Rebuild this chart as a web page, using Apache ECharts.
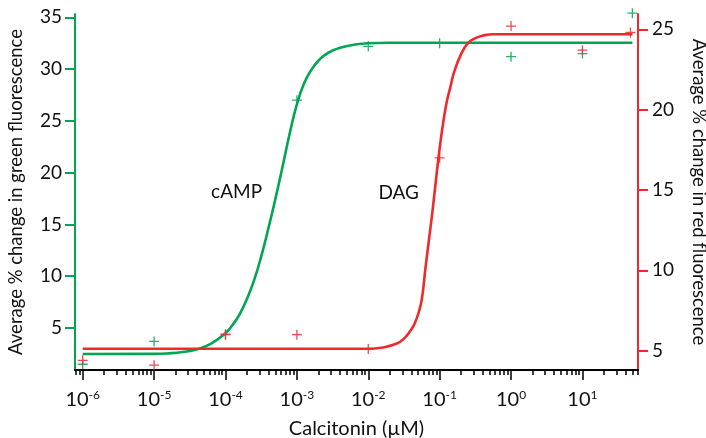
<!DOCTYPE html>
<html>
<head>
<meta charset="utf-8">
<script src="https://cdn.jsdelivr.net/npm/echarts@6/dist/echarts.min.js"></script>
<style>
  html, body { margin: 0; padding: 0; background: #fff; }
  #chart { width: 706px; height: 438px; }
</style>
</head>
<body>
<div id="chart"></div>
<script>
// concentrations (uM) of the measured points
const doses = [1e-6, 1e-5, 1e-4, 1e-3, 1e-2, 1e-1, 1, 10, 50]
const dosesRed = [1e-6, 1e-5, 1e-4, 1e-3, 1e-2, 1e-1, 1, 10, 47]
const greenPoints = [1.5, 3.7, 4.4, 27.0, 32.2, 32.5, 31.2, 31.5, 35.4]
const redPoints = [4.4, 4.1, 6.0, 6.0, 5.1, 17.0, 25.2, 23.7, 24.8]

// fitted curves (log10 of the dose, value)
const greenFitLogDose = [-6, -5, -4.8, -4.6, -4.4, -4.2, -4.0, -3.9, -3.8, -3.7, -3.6, -3.5, -3.4, -3.3, -3.2, -3.1, -3.0, -2.9, -2.8, -2.7, -2.6, -2.5, -2.4, -2.2, -2.0, -1.7, 1.7]
const greenFitY = [2.49, 2.5, 2.55, 2.68, 2.95, 3.5, 4.5, 5.3, 6.35, 7.8, 9.6, 11.9, 14.6, 17.5, 20.6, 23.8, 26.6, 28.6, 29.9, 30.8, 31.4, 31.8, 32.05, 32.35, 32.5, 32.55, 32.55]
const redFitLogDose = [-6, -2.0, -1.8, -1.6, -1.5, -1.4, -1.35, -1.3, -1.25, -1.2, -1.15, -1.1, -1.05, -1.0, -0.95, -0.9, -0.85, -0.8, -0.7, -0.6, -0.5, -0.4, -0.25, 1.7]
const redFitY = [5.12, 5.12, 5.2, 5.45, 5.75, 6.3, 6.7, 7.3, 8.2, 10.1, 11.9, 13.7, 15.7, 17.6, 19.2, 20.5, 21.4, 22.3, 23.45, 24.15, 24.45, 24.6, 24.69, 24.69]

// axis ticks
const xTicks = [1e-6, 1e-5, 1e-4, 1e-3, 1e-2, 1e-1, 1, 10]
const leftTicks = [5, 10, 15, 20, 25, 30, 35]
const rightTicks = [5, 10, 15, 20, 25]

// curve labels
const curveLabels = [
  { name: 'cAMP', x: 1.43e-4, y: 18.1 },
  { name: 'DAG', x: 2.67e-2, y: 14.8 }
]

const GREEN = '#00a651'
const RED = '#ee2a2e'
const FONT = 'Lato'
const INK = '#111'

// minor ticks 2..9 of each decade
const xMinorTicks = [8e-7, 9e-7]
xTicks.forEach(d => {
  for (let m = 2; m <= 9; m++) xMinorTicks.push(+(d * m).toPrecision(3))
})

const pair = (xs, ys) => xs.map((x, i) => [x, ys[i]])
const pairLog = (lx, ys) => lx.map((x, i) => [Math.pow(10, x), ys[i]])
const plus = 'path://M0,4.35H10V5.65H0Z M4.35,0H5.65V10H4.35Z'

const chart = echarts.init(document.getElementById('chart'), null, { renderer: 'canvas' })

const labelMark = (item) => ({
  symbol: 'circle',
  symbolSize: 0,
  label: { show: true, position: 'inside', formatter: '{b}', fontSize: 19, color: INK, fontFamily: FONT },
  data: [{ name: item.name, coord: [item.x, item.y] }]
})

chart.setOption({
  animation: false,
  textStyle: { fontFamily: FONT },
  grid: { left: 75, right: 68, top: 14, bottom: 68, outerBoundsMode: 'none' },
  xAxis: [
    {
      type: 'log',
      min: 7.8e-7,
      max: 60,
      position: 'bottom',
      name: 'Calcitonin (µM)',
      nameLocation: 'middle',
      nameGap: 49,
      nameTextStyle: { fontSize: 20, color: INK, fontFamily: FONT },
      axisLine: { lineStyle: { color: '#000', width: 2 } },
      axisTick: { customValues: xTicks, length: 10, lineStyle: { color: '#000', width: 1.5 } },
      splitLine: { show: false },
      axisLabel: {
        customValues: xTicks,
        margin: 19,
        formatter: v => '{b|10}{s|' + Math.round(Math.log10(v)) + '}',
        rich: {
          b: { fontSize: 20, lineHeight: 22, color: INK, fontFamily: FONT },
          s: { fontSize: 12, lineHeight: 12, verticalAlign: 'top', color: INK, fontFamily: FONT }
        }
      }
    },
    {
      type: 'log',
      min: 7.8e-7,
      max: 60,
      position: 'bottom',
      axisLine: { show: false },
      axisTick: { customValues: xMinorTicks, length: 5, lineStyle: { color: '#000', width: 1.5 } },
      axisLabel: { show: false },
      splitLine: { show: false }
    }
  ],
  yAxis: [
    {
      type: 'value',
      min: 0.945,
      max: 35.32,
      position: 'left',
      name: 'Average % change in green fluorescence',
      nameLocation: 'middle',
      nameGap: 49,
      nameTextStyle: { fontSize: 18.5, color: INK, fontFamily: FONT },
      axisLine: { show: true, lineStyle: { color: GREEN, width: 2 } },
      axisTick: { show: true, customValues: leftTicks, length: 10, lineStyle: { color: GREEN, width: 2 } },
      axisLabel: { customValues: leftTicks, margin: 13, fontSize: 19, color: INK, fontFamily: FONT },
      splitLine: { show: false }
    },
    {
      type: 'value',
      min: 3.8,
      max: 25.95,
      position: 'right',
      name: 'Average % change in red fluorescence',
      nameLocation: 'middle',
      nameRotate: -90,
      nameGap: 51,
      nameTextStyle: { fontSize: 18.5, color: INK, fontFamily: FONT },
      axisLine: { show: true, lineStyle: { color: RED, width: 2 } },
      axisTick: { show: true, customValues: rightTicks, length: 10, lineStyle: { color: RED, width: 2 } },
      axisLabel: { customValues: rightTicks, margin: 14, fontSize: 19, color: INK, fontFamily: FONT },
      splitLine: { show: false }
    }
  ],
  series: [
    {
      name: 'cAMP fit',
      type: 'line',
      yAxisIndex: 0,
      data: pairLog(greenFitLogDose, greenFitY),
      smooth: 0.5,
      showSymbol: false,
      lineStyle: { color: GREEN, width: 2.6 },
      z: 2,
      markPoint: labelMark(curveLabels[0])
    },
    {
      name: 'DAG fit',
      type: 'line',
      yAxisIndex: 1,
      data: pairLog(redFitLogDose, redFitY),
      smooth: 0.5,
      showSymbol: false,
      lineStyle: { color: RED, width: 2.6 },
      z: 3,
      markPoint: labelMark(curveLabels[1])
    },
    {
      name: 'cAMP',
      type: 'scatter',
      yAxisIndex: 0,
      data: pair(doses, greenPoints),
      symbol: plus,
      symbolSize: 10,
      clip: false,
      itemStyle: { color: GREEN, opacity: 0.85 },
      z: 4
    },
    {
      name: 'DAG',
      type: 'scatter',
      yAxisIndex: 1,
      data: pair(dosesRed, redPoints),
      symbol: plus,
      symbolSize: 10,
      clip: false,
      itemStyle: { color: RED, opacity: 0.85 },
      z: 4
    }
  ]
})
</script>
</body>
</html>
